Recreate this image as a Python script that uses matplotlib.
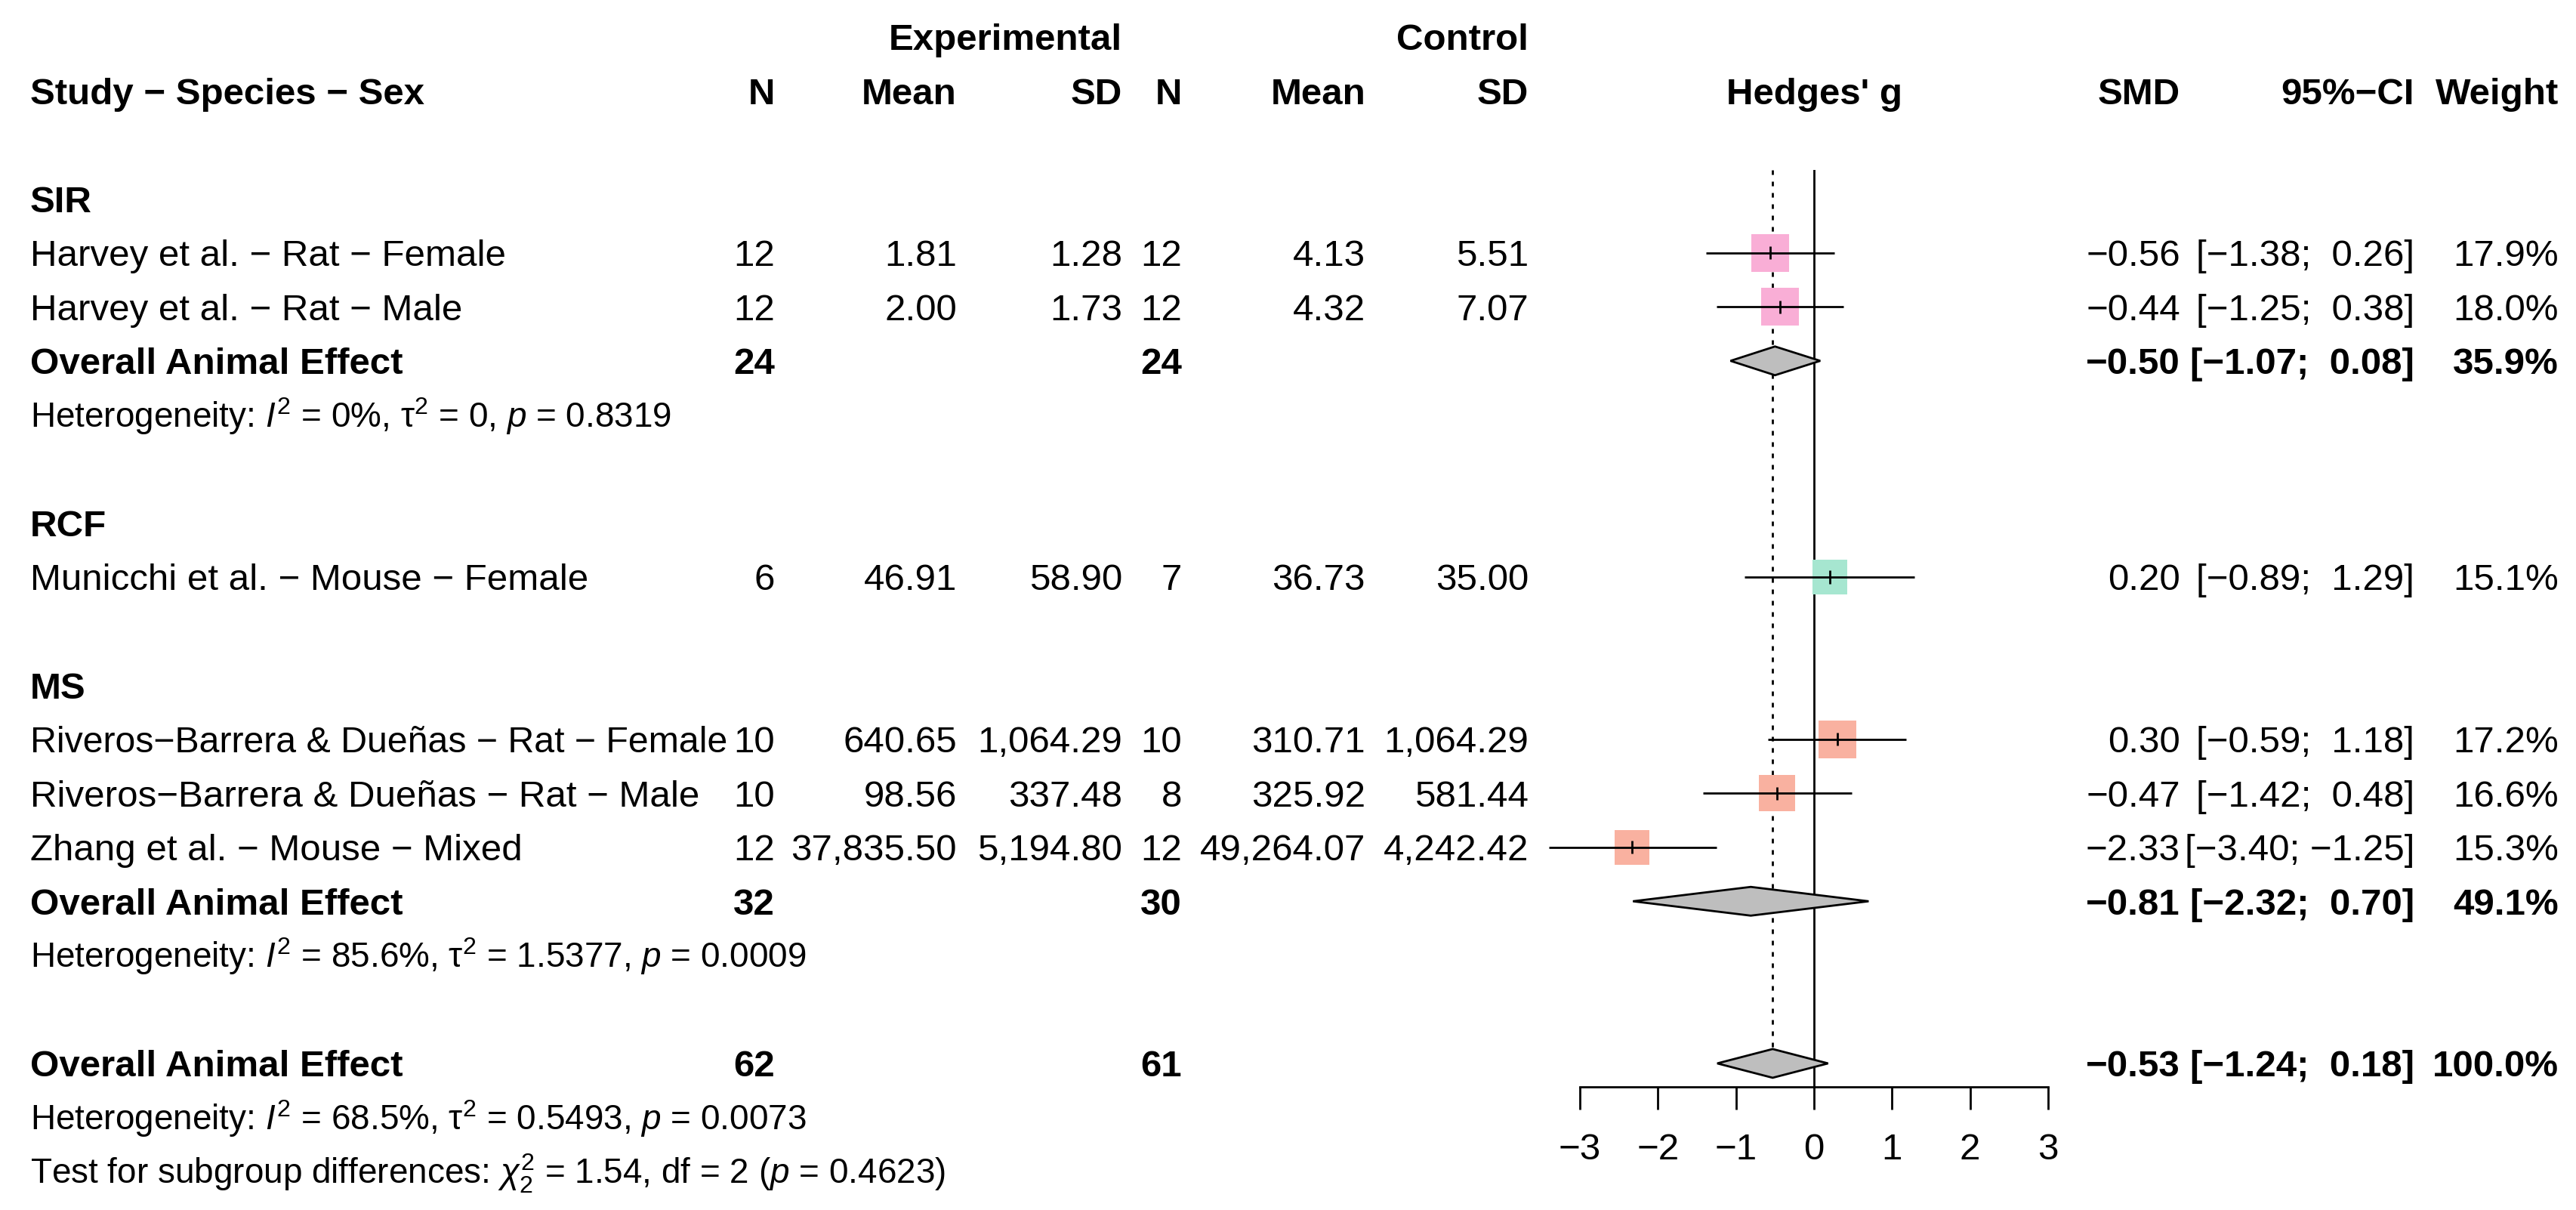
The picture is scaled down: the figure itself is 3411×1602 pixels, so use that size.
import numpy as np
import matplotlib
matplotlib.use("Agg")
import matplotlib.pyplot as plt

plt.rcParams['font.family'] = ['Liberation Sans', 'DejaVu Sans']
plt.rcParams['mathtext.fontset'] = 'custom'
plt.rcParams['mathtext.rm'] = 'Liberation Sans'
plt.rcParams['mathtext.it'] = 'Liberation Sans:italic'
plt.rcParams['mathtext.bf'] = 'Liberation Sans:bold'

# ---------------- data ----------------
groups = ["SIR", "RCF", "MS"]
study_group = ["SIR", "SIR", "RCF", "MS", "MS", "MS"]
studies = ["Harvey et al. \u2212 Rat \u2212 Female",
           "Harvey et al. \u2212 Rat \u2212 Male",
           "Municchi et al. \u2212 Mouse \u2212 Female",
           "Riveros\u2212Barrera & Due\u00f1as \u2212 Rat \u2212 Female",
           "Riveros\u2212Barrera & Due\u00f1as \u2212 Rat \u2212 Male",
           "Zhang et al. \u2212 Mouse \u2212 Mixed"]
n_e = [12, 12, 6, 10, 10, 12]
mean_e = [1.81, 2.00, 46.91, 640.65, 98.56, 37835.50]
sd_e = [1.28, 1.73, 58.90, 1064.29, 337.48, 5194.80]
n_c = [12, 12, 7, 10, 8, 12]
mean_c = [4.13, 4.32, 36.73, 310.71, 325.92, 49264.07]
sd_c = [5.51, 7.07, 35.00, 1064.29, 581.44, 4242.42]
smd = [-0.56, -0.44, 0.20, 0.30, -0.47, -2.33]
ci_lo = [-1.38, -1.25, -0.89, -0.59, -1.42, -3.40]
ci_hi = [0.26, 0.38, 1.29, 1.18, 0.48, -1.25]
weight = [17.9, 18.0, 15.1, 17.2, 16.6, 15.3]

# subgroup summaries
sub_ne = {"SIR": 24, "MS": 32}
sub_nc = {"SIR": 24, "MS": 30}
sub_smd = {"SIR": -0.50, "MS": -0.81}
sub_lo = {"SIR": -1.07, "MS": -2.32}
sub_hi = {"SIR": 0.08, "MS": 0.70}
sub_w = {"SIR": 35.9, "MS": 49.1}
sub_i2 = {"SIR": "0%", "MS": "85.6%"}
sub_tau2 = {"SIR": "0", "MS": "1.5377"}
sub_p = {"SIR": "0.8319", "MS": "0.0009"}

tot_ne, tot_nc = 62, 61
tot_smd, tot_lo, tot_hi, tot_w = -0.53, -1.24, 0.18, 100.0
tot_i2, tot_tau2, tot_p = "68.5%", "0.5493", "0.0073"
chi2, chi_df, chi_p = "1.54", "2", "0.4623"

xticks = [-3, -2, -1, 0, 1, 2, 3]
group_colors = {"SIR": "#F9AED6", "RCF": "#A6E6D0", "MS": "#F9B1A0"}

# ---------------- layout ----------------
W, H, DPI = 3411, 1602, 100
FS = 35.5
FS_HET = 33
LW = 2.0
ROW0, ROWH = 120, 71.55
BASE = 0.245         # baseline offset (rows) below row centre
BASE_HET = 0.23
DH = 0.266           # diamond half height (rows)


def r_of(px):
    return (px - ROW0) / ROWH


def m(v):
    return v.replace("-", "\u2212")


def fnum(v):
    return m(f"{v:,.2f}")


def fci(lo, hi):
    return m(f"[{lo:5.2f}; {hi:5.2f}]")


fig = plt.figure(figsize=(W / DPI, H / DPI), dpi=DPI)
tax = fig.add_axes([0, 0, 1, 1])
tax.set_xlim(0, W)
tax.set_ylim(r_of(H), r_of(0))
tax.axis('off')

ax_top_px, ax_bot_px = 225, 1439
xl_px, xr_px = 2092, 2712
fax = fig.add_axes([xl_px / W, 1 - ax_bot_px / H, (xr_px - xl_px) / W,
                    (ax_bot_px - ax_top_px) / H])
fax.set_xlim(-3, 3)
fax.set_ylim(r_of(ax_bot_px), r_of(ax_top_px))
fax.patch.set_alpha(0)
for s in ['top', 'left', 'right']:
    fax.spines[s].set_visible(False)
fax.spines['bottom'].set_linewidth(LW)
fax.set_yticks([])
fax.set_xticks(xticks)
fax.set_xticklabels([m(str(t)) for t in xticks])
fax.tick_params(axis='x', length=21.6, width=LW, labelsize=FS, pad=22)

# column right edges (layout, px)
X_LABEL = 40
X_NE, X_ME, X_SDE = 1026, 1267, 1486
X_NC, X_MC, X_SDC = 1565, 1808, 2024
X_SMD, X_CI, X_W = 2887, 3197, 3388
LABEL_MAX_W = 925    # keep study labels clear of the N column


def txt(x, row, s, ha='right', bold=False, fs=FS, base=BASE):
    return tax.text(x, row + base, s, ha=ha, va='baseline', fontsize=fs,
                    fontweight='bold' if bold else 'normal')


def het(row, s):
    txt(X_LABEL, row, s, ha='left', fs=FS_HET, base=BASE_HET)


renderer = fig.canvas.get_renderer()


def label(row, s):
    t = txt(X_LABEL, row, s, ha='left')
    w = t.get_window_extent(renderer).width
    if w > LABEL_MAX_W:
        t.set_fontsize(FS * LABEL_MAX_W / w)


# headers
txt(X_SDE, -1, "Experimental", bold=True)
txt(X_SDC, -1, "Control", bold=True)
txt(X_LABEL, 0, "Study \u2212 Species \u2212 Sex", ha='left', bold=True)
for x, s in [(X_NE, "N"), (X_ME, "Mean"), (X_SDE, "SD"), (X_NC, "N"),
             (X_MC, "Mean"), (X_SDC, "SD"), (X_SMD, "SMD"),
             (X_CI, "95%\u2212CI"), (X_W, "Weight")]:
    txt(x, 0, s, bold=True)
fax.text(0, 0 + BASE, "Hedges' g", ha='center', va='baseline', fontsize=FS,
         fontweight='bold', clip_on=False)


def diamond(row, est, lo, hi):
    fax.fill([lo, est, hi, est], [row, row - DH, row, row + DH],
             facecolor='#BEBEBE', edgecolor='black', lw=LW, zorder=3,
             clip_on=False)


row = 2
for g in groups:
    txt(X_LABEL, row, g, ha='left', bold=True)
    row += 1
    idx = [i for i, sg in enumerate(study_group) if sg == g]
    for i in idx:
        label(row, studies[i])
        txt(X_NE, row, str(n_e[i]))
        txt(X_ME, row, fnum(mean_e[i]))
        txt(X_SDE, row, fnum(sd_e[i]))
        txt(X_NC, row, str(n_c[i]))
        txt(X_MC, row, fnum(mean_c[i]))
        txt(X_SDC, row, fnum(sd_c[i]))
        txt(X_SMD, row, m(f"{smd[i]:.2f}"))
        txt(X_CI, row, fci(ci_lo[i], ci_hi[i]))
        txt(X_W, row, f"{weight[i]:.1f}%")
        side_pt = 11.82 * np.sqrt(weight[i]) * 72 / DPI
        fax.scatter([smd[i]], [row], marker='s', s=side_pt ** 2,
                    c=group_colors[g], linewidths=0, zorder=2, clip_on=False)
        fax.plot([ci_lo[i], ci_hi[i]], [row, row], color='black', lw=LW,
                 zorder=3, clip_on=False, solid_capstyle='butt')
        fax.plot([smd[i], smd[i]], [row - 0.12, row + 0.12], color='black',
                 lw=LW, zorder=4, clip_on=False, solid_capstyle='butt')
        row += 1
    if g in sub_smd:
        txt(X_LABEL, row, "Overall Animal Effect", ha='left', bold=True)
        txt(X_NE, row, str(sub_ne[g]), bold=True)
        txt(X_NC, row, str(sub_nc[g]), bold=True)
        txt(X_SMD, row, m(f"{sub_smd[g]:.2f}"), bold=True)
        txt(X_CI, row, fci(sub_lo[g], sub_hi[g]), bold=True)
        txt(X_W, row, f"{sub_w[g]:.1f}%", bold=True)
        diamond(row, sub_smd[g], sub_lo[g], sub_hi[g])
        row += 1
        het(row, r"Heterogeneity: $\mathit{I}^{2}$ = " + sub_i2[g]
            + r", τ$^{2}$ = " + sub_tau2[g] + r", $\mathit{p}$ = " + sub_p[g])
        row += 1
    row += 1

# overall
txt(X_LABEL, row, "Overall Animal Effect", ha='left', bold=True)
txt(X_NE, row, str(tot_ne), bold=True)
txt(X_NC, row, str(tot_nc), bold=True)
txt(X_SMD, row, m(f"{tot_smd:.2f}"), bold=True)
txt(X_CI, row, fci(tot_lo, tot_hi), bold=True)
txt(X_W, row, f"{tot_w:.1f}%", bold=True)
diamond(row, tot_smd, tot_lo, tot_hi)
overall_row = row
row += 1
het(row, r"Heterogeneity: $\mathit{I}^{2}$ = " + tot_i2
    + r", τ$^{2}$ = " + tot_tau2 + r", $\mathit{p}$ = " + tot_p)
row += 1
het(row, r"Test for subgroup differences: $\chi^{2}_{" + chi_df + r"}$ = "
    + chi2 + ", df = " + chi_df + r" ($\mathit{p}$ = " + chi_p + ")")

# reference lines
fax.axvline(0, color='black', lw=LW, zorder=1)
fax.plot([tot_smd, tot_smd], [r_of(ax_top_px), overall_row - DH], color='black',
         lw=LW, ls=(0, (2.2, 3.2)), zorder=1, clip_on=False)

fig.savefig("out.png", dpi=DPI)
